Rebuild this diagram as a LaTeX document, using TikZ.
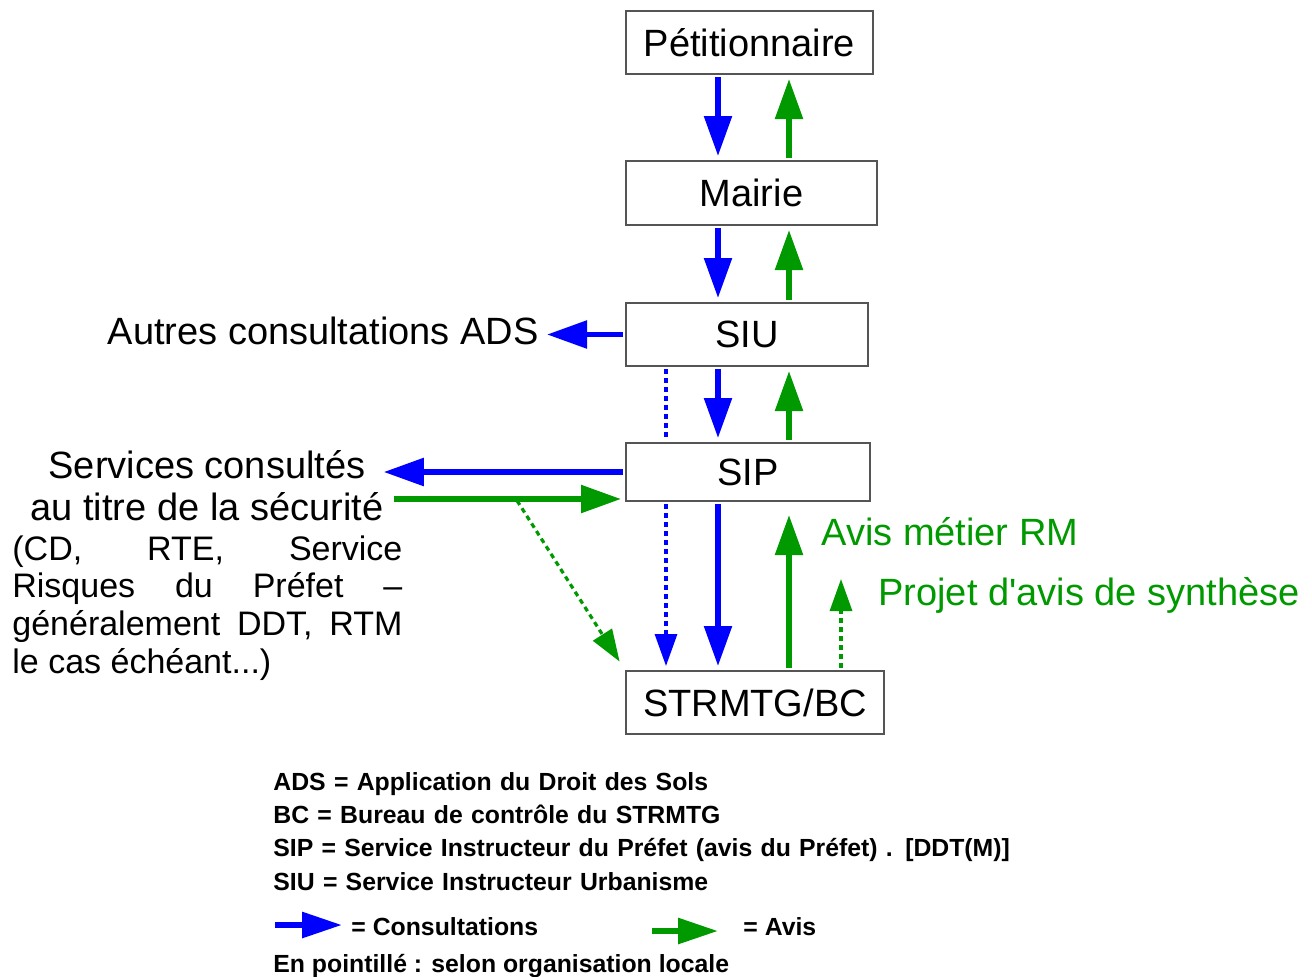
\documentclass[tikz,border=0pt]{standalone}
\usepackage{fontspec}
\setmainfont{Liberation Sans}
\usetikzlibrary{arrows.meta}
\definecolor{consblue}{RGB}{0,0,255}
\definecolor{avisgreen}{RGB}{0,153,0}
\definecolor{boxgray}{RGB}{85,85,85}
\newcommand{\bigfont}{\fontsize{19}{21}\selectfont}
\newcommand{\midfont}{\fontsize{17}{18.85}\selectfont}
\newcommand{\legfont}{\fontsize{12.4}{16.65}\selectfont\bfseries}

\begin{document}
\begin{tikzpicture}[x=0.5pt,y=-0.5pt,
	box/.style={draw=boxgray, line width=1pt, fill=white, inner sep=0pt, font=\bigfont},
	consult/.style={consblue, line width=2.75pt, -{Triangle[length=20pt,width=13.5pt]}, shorten >=2pt, shorten <=1pt},
	avis/.style={consult, avisgreen},
	consultdot/.style={consblue, line width=1.6pt, dash pattern=on 2.5pt off 2pt, -{Triangle[length=16pt,width=11pt]}, shorten >=2pt, shorten <=1pt},
	avisdot/.style={consultdot, avisgreen},
	legarrow/.style={line width=3pt, -{Triangle[length=20pt,width=12.5pt]}},
	legtext/.style={font=\legfont, inner sep=0pt}]
	\useasboundingbox (0,0) rectangle (1312,976);

	\node[box, minimum width=123.5pt, minimum height=31.5pt] (petit) at (749.5,42.5) {Pétitionnaire};
	\node[box, minimum width=125.5pt, minimum height=32pt] (mairie) at (751.5,193) {Mairie};
	\node[box, minimum width=121pt, minimum height=31.5pt] (siu) at (747,334.5) {SIU};
	\node[box, minimum width=122pt, minimum height=29pt] (sip) at (748,472) {SIP};
	\node[box, minimum width=129pt, minimum height=31.5pt] (strmtg) at (755,702.5) {STRMTG/BC};

	\coordinate (down) at (718,0);
	\coordinate (up) at (789,0);
	\coordinate (dotdown) at (666,0);
	\coordinate (dotup) at (841,0);
	\coordinate (fork) at (516,499);

	\node[anchor=east, font=\bigfont, inner sep=2pt] (autres) at (543,331) {Autres consultations ADS};
	\node[font=\bigfont, align=center, inner sep=0pt, anchor=north] (servtitle) at (207,450) {Services consultés\\au titre de la sécurité};
	\node[font=\midfont, text width=195pt, align=justify, inner sep=0pt, anchor=north west] (servlist) at (12,535) {(CD, RTE, Service\linebreak Risques du Préfet –\linebreak généralement DDT, RTM\linebreak le cas échéant...)};
	\node[anchor=base west, font=\bigfont, text=avisgreen, inner sep=0pt] (metier) at (821,545) {Avis métier RM};
	\node[anchor=base west, font=\bigfont, text=avisgreen, inner sep=0pt] (projet) at (878,605) {Projet d\textquotesingle avis de synthèse};

	\draw[consult] (petit.south -| down) -- (mairie.north -| down);
	\draw[avis] (mairie.north -| up) -- (petit.south -| up);
	\draw[consult] (mairie.south -| down) -- (siu.north -| down);
	\draw[avis] (siu.north -| up) -- (mairie.south -| up);
	\draw[consult] (siu.south -| down) -- (sip.north -| down);
	\draw[avis] (sip.north -| up) -- (siu.south -| up);
	\draw[consult] (sip.south -| down) -- (strmtg.north -| down);
	\draw[avis, shorten >=6.5pt] (strmtg.north -| up) -- (sip.south -| up);
	\draw[avisdot, shorten >=38.5pt] (strmtg.north -| dotup) -- (sip.south -| dotup);
	\draw[consultdot, -] (siu.south -| dotdown) -- (sip.north -| dotdown);
	\draw[consultdot] (sip.south -| dotdown) -- (strmtg.north -| dotdown);

	\draw[consult] (siu.west) -- (siu.west -| autres.east);
	\draw[consult, shorten >=0pt] (sip.west) -- (sip.west -| servtitle.east);
	\draw[avis, shorten <=5pt] (servtitle.east |- fork) -- (sip.west |- fork);
	\draw[avisdot, shorten >=5pt] (fork) -- (strmtg.north west);

	\node[legtext, text width=380pt, align=left, anchor=north west] (abbrev) at (273,772) {ADS = Application du Droit des Sols\\BC = Bureau de contrôle du STRMTG\\SIP = Service Instructeur du Préfet (avis du Préfet) . [DDT(M)]\\SIU = Service Instructeur Urbanisme};
	\node[legtext, anchor=base west] (legcons) at (351,935) {= Consultations};
	\node[legtext, anchor=base west] (legavis) at (743,935) {= Avis};
	\node[legtext, anchor=base west] (pointille) at (273,972) {En pointillé : selon organisation locale};
	\coordinate (legc) at (275,925);
	\coordinate (lega) at (652,931);
	\draw[legarrow, consblue, shorten >=4.5pt] (legc) -- (legcons.west |- legc);
	\draw[legarrow, avisgreen, shorten >=12.5pt] (lega) -- (legavis.west |- lega);
\end{tikzpicture}
\end{document}
